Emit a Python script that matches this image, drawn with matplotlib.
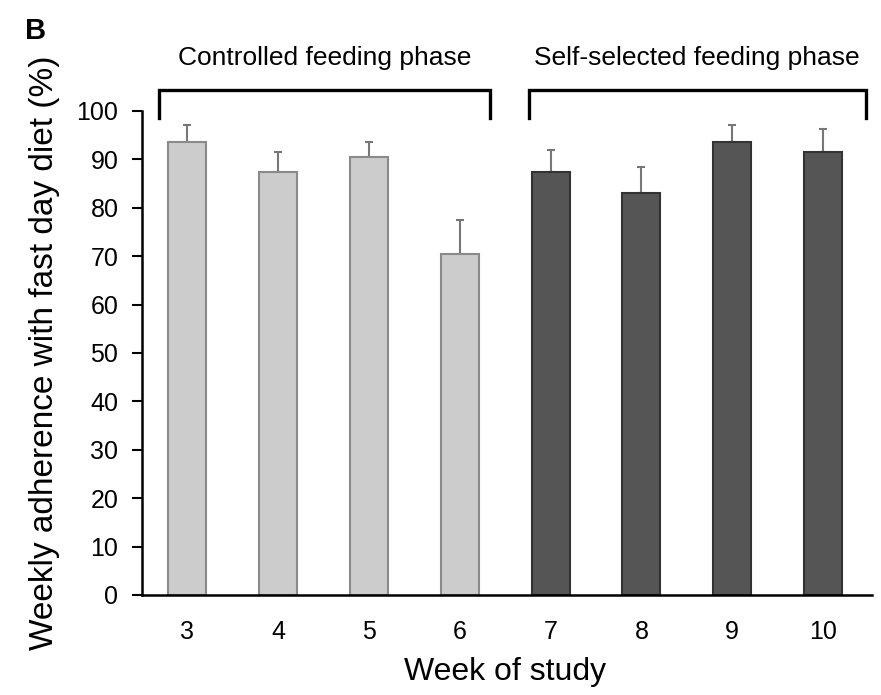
import matplotlib
matplotlib.use("Agg")
from matplotlib import pyplot as plt
import numpy as np

plt.rcParams['font.family'] = ['Liberation Sans Narrow', 'Liberation Sans', 'DejaVu Sans']

weeks = ["3", "4", "5", "6", "7", "8", "9", "10"]
adherence = [93.5, 87.3, 90.4, 70.5, 87.3, 83.0, 93.5, 91.5]
sem = [3.7, 4.3, 3.1, 7.0, 4.6, 5.5, 3.7, 4.8]
phase = ["controlled"] * 4 + ["self"] * 4

face = {"controlled": "#cccccc", "self": "#555555"}
edge = {"controlled": "#8a8a8a", "self": "#333333"}

fig = plt.figure(figsize=(8.81, 6.95), dpi=100)
ax = fig.add_axes([0.1612, 0.1439, 0.8286, 0.6964])

x = np.arange(len(weeks))
ax.bar(x, adherence, width=0.42,
       color=[face[p] for p in phase],
       edgecolor=[edge[p] for p in phase], linewidth=1.5, zorder=2)
ax.errorbar(x, adherence, yerr=[np.zeros(len(sem)), sem], fmt='none',
            ecolor='#777777', elinewidth=1.5, capsize=3, capthick=1.5, zorder=1)

ax.set_xlim(-0.5, 7.54)
ax.set_ylim(0, 100)
ax.set_yticks(range(0, 101, 10))
ax.set_xticks(x)
ax.set_xticklabels(weeks)
ax.tick_params(axis='x', length=0, pad=18, labelsize=18)
ax.tick_params(axis='y', length=7, width=1.5, pad=10, labelsize=18)
for s in ['top', 'right']:
    ax.spines[s].set_visible(False)
ax.spines['left'].set_linewidth(1.8)
ax.spines['bottom'].set_linewidth(1.8)

ax.set_xlabel("Week of study", fontsize=23)
ax.set_ylabel("Weekly adherence with fast day diet (%)", fontsize=24)
ax.xaxis.set_label_coords(0.497, -0.128)
ax.yaxis.set_label_coords(-0.113, 0.5)

# phase brackets
groups = [("Controlled feeding phase", -0.31, 3.33), ("Self-selected feeding phase", 3.76, 7.47)]
for label, xl, xr in groups:
    ax.plot([xl, xl, xr, xr], [98.6, 104.3, 104.3, 98.6], color='black',
            lw=2.4, clip_on=False, solid_joinstyle='miter')
    ax.text((xl + xr) / 2, 108.5, label, ha='center', va='bottom', fontsize=19)

fig.text(0.028, 0.975, "B", fontsize=21, fontweight='bold', va='top')

plt.savefig("out.png", dpi=100)
